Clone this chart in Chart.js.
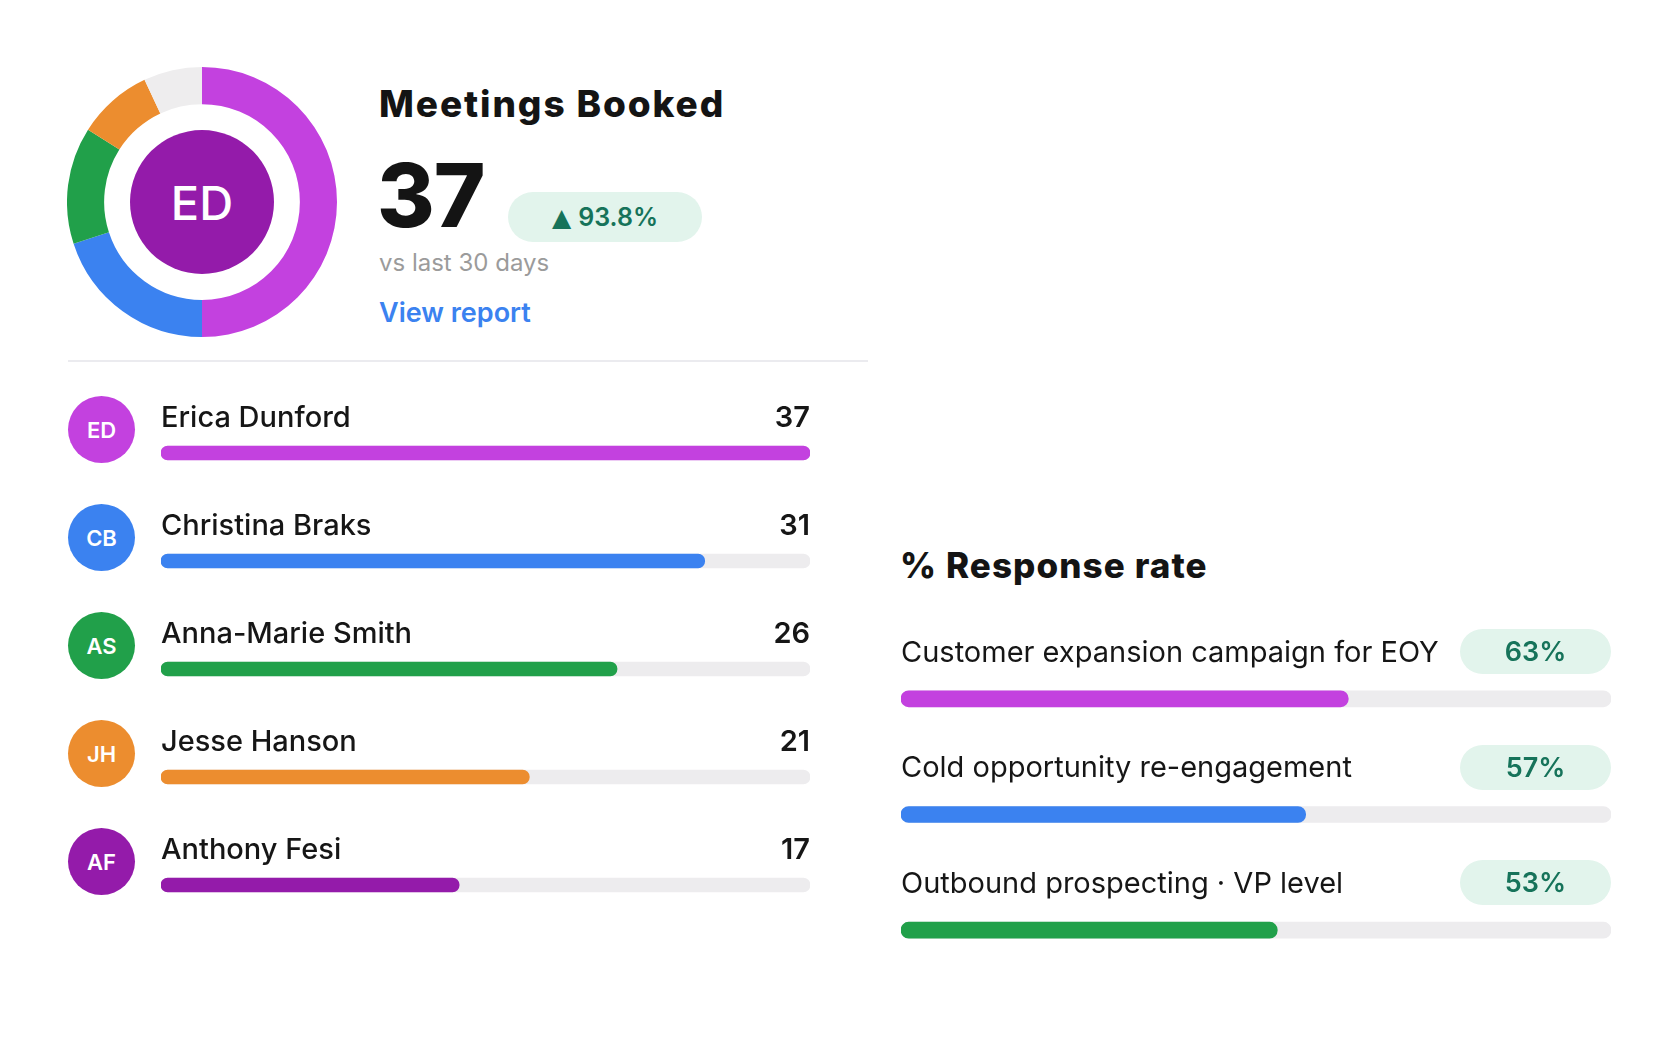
<!DOCTYPE html>
<html>
<head>
<meta charset="utf-8">
<title>Meetings Booked</title>
<script src="https://cdn.jsdelivr.net/npm/chart.js@4.4.1/dist/chart.umd.min.js"></script>
<style>
  html, body { margin: 0; padding: 0; background: #fff; }
  body {
    width: 1679px; height: 1043px; position: relative; overflow: hidden;
    font-family: Inter, "Noto Sans", sans-serif; color: #161616;
  }
  .abs { position: absolute; white-space: nowrap; }
  canvas { position: absolute; }
  .heading { font-weight: 800; color: #141414; }
  .circle {
    position: absolute; border-radius: 50%; color: #fff;
    display: flex; align-items: center; justify-content: center;
  }
  .pill {
    position: absolute; background: #E2F4EC; color: #16735A;
    display: flex; align-items: center; justify-content: center;
    font-weight: 600;
  }
</style>
</head>
<body>

<!-- top summary -->
<canvas id="shareChart" width="270" height="270" style="left:67px; top:67px;"></canvas>
<div class="circle" id="centerAvatar" style="left:130px; top:130px; width:144px; height:144px; background:#941BAA; font-size:47px; font-weight:500;"></div>

<div class="abs heading" id="title" style="left:379px; top:85px; font-size:37px; line-height:37px; letter-spacing:1.9px;"></div>
<div class="abs heading" id="total" style="left:377px; top:151px; font-size:88px; line-height:88px; letter-spacing:-1px;"></div>
<div class="pill" id="change" style="left:508px; top:192px; width:194px; height:50px; border-radius:25px; font-size:25px;"></div>
<div class="abs" style="left:379px; top:251px; font-size:24px; line-height:24px; color:#9b9b9b;">vs last 30 days</div>
<div class="abs" style="left:379px; top:299px; font-size:27px; line-height:27px; color:#3B82F0; font-weight:600;">View report</div>
<div class="abs" style="left:68px; top:360px; width:800px; height:2px; background:#EBEBEF;"></div>

<!-- per person bars -->
<canvas id="peopleChart" width="649" height="540" style="left:161px; top:399px;"></canvas>

<!-- response rate -->
<div class="abs heading" style="left:900px; top:548px; font-size:35px; line-height:35px; letter-spacing:1.1px;">% Response rate</div>
<canvas id="rateChart" width="710" height="347" style="left:901px; top:641px;"></canvas>

<script>
// meetings per person
const people = ["Erica Dunford", "Christina Braks", "Anna-Marie Smith", "Jesse Hanson", "Anthony Fesi"];
const initials = ["ED", "CB", "AS", "JH", "AF"];
const meetings = [37, 31, 26, 21, 17];
const personColors = ["#C341DF", "#3B82F0", "#21A04A", "#EC8D2F", "#941BAA"];

// ring around the avatar (share, %)
const shareLabels = ["Erica Dunford", "Christina Braks", "Anna-Marie Smith", "Jesse Hanson", "Other"];
const shareValues = [50, 20, 14, 9, 7];
const shareColors = ["#C341DF", "#3B82F0", "#21A04A", "#EC8D2F", "#EEEDEE"];

// response rate per campaign (%)
const campaigns = ["Customer expansion campaign for EOY", "Cold opportunity re-engagement", "Outbound prospecting · VP level"];
const responseRates = [63, 57, 53];
const campaignColors = ["#C341DF", "#3B82F0", "#21A04A"];

const summaryTitle = "Meetings Booked";
const summaryTotal = 37;
const summaryChange = "93.8%";

const TRACK = "#EDECEE";
const FONT_ASC = 0.863; // inter baseline offset at line-height 1

function addText(text, x, baseline, size, opts = {}) {
  const el = document.createElement("div");
  el.className = "abs";
  el.textContent = text;
  el.style.fontSize = size + "px";
  el.style.lineHeight = size + "px";
  el.style.top = (baseline - FONT_ASC * size) + "px";
  if (opts.right) el.style.right = (1679 - x) + "px";
  else el.style.left = x + "px";
  if (opts.weight) el.style.fontWeight = opts.weight;
  if (opts.color) el.style.color = opts.color;
  document.body.appendChild(el);
  return el;
}

// thin rounded bar with a grey track behind it
function progressChart(canvasId, labels, values, colors, max, thickness) {
  return new Chart(document.getElementById(canvasId), {
    type: "bar",
    data: {
      labels,
      datasets: [
        {
          data: values,
          backgroundColor: colors,
          barThickness: thickness,
          borderRadius: thickness / 2,
          borderSkipped: false,
          grouped: false,
          order: 0,
        },
        {
          data: labels.map(() => max),
          backgroundColor: TRACK,
          barThickness: thickness,
          borderRadius: thickness / 2,
          borderSkipped: false,
          grouped: false,
          order: 1,
        },
      ],
    },
    options: {
      indexAxis: "y",
      responsive: false,
      animation: false,
      events: [],
      layout: { padding: 0 },
      plugins: { legend: { display: false }, tooltip: { enabled: false } },
      scales: {
        x: { display: false, min: 0, max },
        y: { display: false },
      },
    },
  });
}

// ring
new Chart(document.getElementById("shareChart"), {
  type: "doughnut",
  data: {
    labels: shareLabels,
    datasets: [{ data: shareValues, backgroundColor: shareColors, borderWidth: 0 }],
  },
  options: {
    responsive: false,
    animation: false,
    events: [],
    cutout: "72.5%",
    plugins: { legend: { display: false }, tooltip: { enabled: false } },
  },
});

document.getElementById("centerAvatar").textContent = initials[0];
document.getElementById("title").textContent = summaryTitle;
document.getElementById("total").textContent = summaryTotal;
document.getElementById("change").innerHTML =
  '<span style="font-family:\'DejaVu Sans\';font-size:25px;margin-right:7px;">\u25B2</span>' + summaryChange;

// people rows
const peopleChart = progressChart("peopleChart", people, meetings, personColors, Math.max(...meetings), 14);
const pCanvas = document.getElementById("peopleChart");
people.forEach((name, i) => {
  const cy = pCanvas.offsetTop + peopleChart.scales.y.getPixelForValue(i);
  const av = document.createElement("div");
  av.className = "circle";
  av.textContent = initials[i];
  Object.assign(av.style, {
    left: "68px", top: (cy - 57) + "px", width: "67px", height: "67px",
    background: personColors[i], fontSize: "22px", fontWeight: "600",
  });
  document.body.appendChild(av);
  addText(name, 161, cy - 26, 29, { weight: 450 });
  addText(String(meetings[i]), 810, cy - 26, 29, { right: true, weight: 600 });
});

// campaign rows
const rateChart = progressChart("rateChart", campaigns, responseRates, campaignColors, 100, 16);
const rCanvas = document.getElementById("rateChart");
campaigns.forEach((name, i) => {
  const cy = rCanvas.offsetTop + rateChart.scales.y.getPixelForValue(i);
  addText(name, 901, cy - 37, 29, { weight: 400 });
  const pill = document.createElement("div");
  pill.className = "pill";
  pill.textContent = responseRates[i] + "%";
  Object.assign(pill.style, {
    left: "1460px", top: (cy - 70) + "px", width: "151px", height: "45px",
    borderRadius: "23px", fontSize: "27px",
  });
  document.body.appendChild(pill);
});
</script>
</body>
</html>
